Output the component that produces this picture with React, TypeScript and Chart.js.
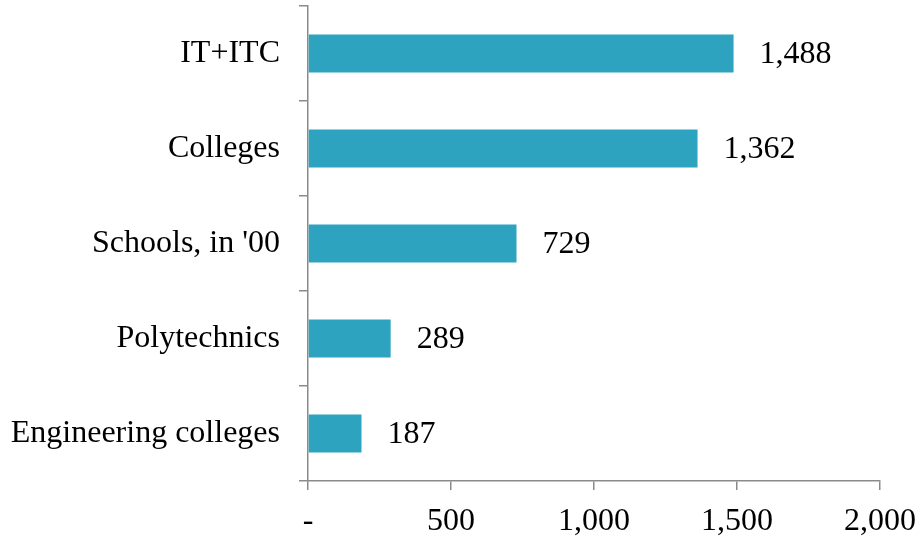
import React, { useEffect, useRef } from "react";
import { Chart, registerables } from "chart.js";

Chart.register(...registerables);

const categories = ["IT+ITC", "Colleges", "Schools, in '00", "Polytechnics", "Engineering colleges"];
const values = [1488, 1362, 729, 289, 187];
const xTicks = [0, 500, 1000, 1500, 2000];

const FONT = "'Liberation Serif', 'Times New Roman', serif";
const FS = 32;
const AXIS = "#8a8a8a";

const fmt = (v: number) => (v === 0 ? "-" : v.toLocaleString("en-US"));

const labelPlugin = {
  id: "barLabels",
  afterDatasetsDraw(chart: any) {
    const ctx = chart.ctx;
    const meta = chart.getDatasetMeta(0);
    ctx.save();
    ctx.font = `${FS}px ${FONT}`;
    ctx.fillStyle = "#000";
    ctx.textAlign = "left";
    ctx.textBaseline = "middle";
    meta.data.forEach((bar: any, i: number) => {
      ctx.fillText(fmt(values[i]), bar.x + 26, bar.y + 1);
    });
    ctx.restore();
  },
};

export default function App() {
  const ref = useRef<HTMLCanvasElement>(null);
  useEffect(() => {
    if (!ref.current) return;
    const chart = new Chart(ref.current, {
      type: "bar",
      data: {
        labels: categories,
        datasets: [
          {
            data: values,
            backgroundColor: "#2ea3bf",
            borderWidth: 0,
            categoryPercentage: 1,
            barPercentage: 0.4,
          },
        ],
      },
      options: {
        indexAxis: "y",
        animation: false,
        responsive: false,
        maintainAspectRatio: false,
        layout: { padding: { top: 6, right: 40, left: 0, bottom: 0 } },
        plugins: { legend: { display: false }, tooltip: { enabled: false } },
        scales: {
          x: {
            min: 0,
            max: 2000,
            afterBuildTicks: (s: any) => {
              s.ticks = xTicks.map((v) => ({ value: v }));
            },
            afterFit: (s: any) => {
              s.height = 56;
              s.paddingLeft = 0;
              s.paddingRight = 0;
            },
            grid: {
              drawOnChartArea: false,
              drawTicks: true,
              tickLength: 9,
              color: AXIS,
              lineWidth: 1.5,
            },
            border: { display: true, color: AXIS, width: 1.5 },
            ticks: {
              autoSkip: false,
              maxRotation: 0,
              padding: 12,
              color: "#000",
              font: { family: FONT, size: FS },
              callback: (v: any) => fmt(Number(v)),
            },
          },
          y: {
            afterFit: (s: any) => {
              s.width = 308;
              s.paddingTop = 0;
              s.paddingBottom = 0;
            },
            grid: {
              offset: true,
              drawOnChartArea: false,
              drawTicks: true,
              tickLength: 9,
              color: AXIS,
              lineWidth: 1.5,
            },
            border: { display: true, color: AXIS, width: 1.5 },
            ticks: {
              autoSkip: false,
              padding: 19,
              color: "#000",
              font: { family: FONT, size: FS },
            },
          },
        },
      },
      plugins: [labelPlugin],
    });
    return () => chart.destroy();
  }, []);
  return (
    <div style={{ position: "fixed", left: 0, top: 0, width: 920, height: 537, background: "#fff" }}>
      <canvas ref={ref} width={920} height={537} style={{ width: 920, height: 537, display: "block" }} />
    </div>
  );
}
